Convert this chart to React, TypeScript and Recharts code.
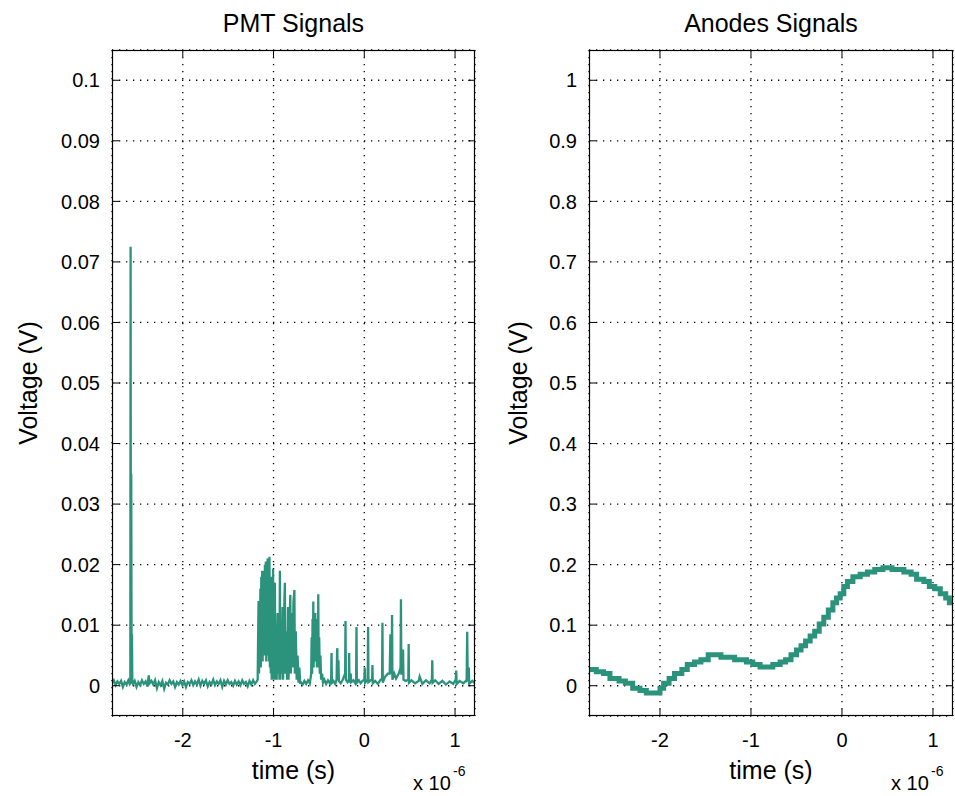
import React from 'react';
import { LineChart, Line, XAxis, YAxis, CartesianGrid } from 'recharts';

// ---------- axes ----------
const timeTicks = [-2, -1, 0, 1];
const timeDomain: [number, number] = [-2.78, 1.22];
const pmtTicks = [0, 0.01, 0.02, 0.03, 0.04, 0.05, 0.06, 0.07, 0.08, 0.09, 0.1];
const pmtDomain: [number, number] = [-0.005, 0.105];
const anodeTicks = [0, 0.1, 0.2, 0.3, 0.4, 0.5, 0.6, 0.7, 0.8, 0.9, 1];
const anodeDomain: [number, number] = [-0.05, 1.05];

// ---------- PMT signal (time in µs, voltage in V) ----------
const pmtLead: [number, number][] = [
  [-2.78, 0.0004], [-2.76, 0.0009], [-2.74, 0.0001], [-2.72, 0.0007], [-2.7, 0.0003],
  [-2.68, 0.0008], [-2.66, -0.0002], [-2.64, 0.0006], [-2.62, 0.0002], [-2.6, 0.0009],
  [-2.585, 0.0003],
];
const pmtSpike: [number, number][] = [
  [-2.578, 0.0005], [-2.575, 0.0725], [-2.572, 0.001], [-2.568, 0.035], [-2.564, 0.002],
  [-2.56, 0.0085], [-2.556, 0.0005],
];
const pmtQuiet: [number, number][] = [
  [-2.55, 0.0003], [-2.53, 0.0008], [-2.51, -0.0002], [-2.49, 0.0006], [-2.47, 0.0001],
  [-2.45, 0.0009], [-2.43, 0.0003], [-2.41, 0.0007], [-2.39, -0.0001], [-2.375, 0.0017],
  [-2.365, 0.0004], [-2.345, 0.0008], [-2.325, 0.0002], [-2.305, 0.0009], [-2.285, -0.0004],
  [-2.265, 0.0006], [-2.245, 0.0001], [-2.225, 0.0008], [-2.205, -0.0005], [-2.185, 0.0005],
  [-2.165, 0.0002], [-2.145, 0.0009], [-2.125, 0.0003], [-2.105, 0.0007], [-2.085, -0.0002],
  [-2.065, 0.0006], [-2.045, 0.0002], [-2.025, 0.0008], [-2.005, 0.0001], [-1.985, 0.0007],
  [-1.965, -0.0002], [-1.945, 0.0006], [-1.925, 0.0003], [-1.905, 0.0009], [-1.885, 0.0001],
  [-1.865, 0.0007], [-1.845, 0.0002], [-1.825, 0.001], [-1.805, 0.0], [-1.785, 0.0008],
  [-1.765, 0.0003], [-1.745, 0.0009], [-1.725, -0.0001], [-1.705, 0.0006], [-1.685, 0.0002],
  [-1.665, 0.001], [-1.645, 0.0001], [-1.625, 0.0007], [-1.605, 0.0003], [-1.585, 0.0009],
  [-1.565, -0.0002], [-1.545, 0.0008], [-1.525, 0.0002], [-1.505, 0.0009], [-1.485, 0.0003],
  [-1.465, 0.0006], [-1.445, 0.0], [-1.425, 0.0008], [-1.405, 0.0002], [-1.385, 0.0007],
  [-1.365, 0.0001], [-1.345, 0.0009], [-1.325, 0.0003], [-1.305, 0.0006], [-1.285, -0.0001],
  [-1.265, 0.0008], [-1.245, 0.0002], [-1.225, 0.0009], [-1.205, 0.0003], [-1.185, 0.0007],
];
const pmtBurst: [number, number][] = [
  [-1.175, 0.001], [-1.17, 0.008], [-1.165, 0.014], [-1.16, 0.002], [-1.155, 0.012],
  [-1.15, 0.004], [-1.145, 0.016], [-1.14, 0.003], [-1.135, 0.018], [-1.13, 0.005],
  [-1.125, 0.019], [-1.12, 0.004], [-1.115, 0.017], [-1.11, 0.006], [-1.105, 0.019],
  [-1.1, 0.005], [-1.095, 0.02], [-1.09, 0.006], [-1.085, 0.0205], [-1.08, 0.004],
  [-1.075, 0.018], [-1.07, 0.005], [-1.065, 0.021], [-1.06, 0.006], [-1.055, 0.019],
  [-1.05, 0.004], [-1.045, 0.0213], [-1.04, 0.003], [-1.035, 0.017], [-1.03, 0.002],
  [-1.025, 0.018], [-1.02, 0.001], [-1.015, 0.016], [-1.01, 0.002], [-1.005, 0.0193],
  [-1.0, 0.001], [-0.995, 0.012], [-0.99, 0.002], [-0.985, 0.017], [-0.98, 0.001],
  [-0.97, 0.01], [-0.965, 0.001], [-0.955, 0.012], [-0.95, 0.002], [-0.94, 0.008],
  [-0.935, 0.001], [-0.93, 0.019], [-0.925, 0.001], [-0.915, 0.009], [-0.91, 0.002],
  [-0.9, 0.013], [-0.895, 0.001], [-0.885, 0.011], [-0.875, 0.017], [-0.87, 0.002],
  [-0.86, 0.009], [-0.85, 0.001], [-0.84, 0.013], [-0.835, 0.001], [-0.825, 0.01],
  [-0.815, 0.015], [-0.81, 0.002], [-0.8, 0.012], [-0.79, 0.003], [-0.78, 0.014],
  [-0.77, 0.0158], [-0.765, 0.002], [-0.755, 0.009], [-0.745, 0.001], [-0.735, 0.005],
  [-0.725, 0.0005], [-0.716, 0.003], [-0.705, 0.0003],
];
const pmtTail: [number, number][] = [
  [-0.7, 0.0006], [-0.68, 0.0002], [-0.66, 0.0008], [-0.64, 0.0003], [-0.62, 0.0009],
  [-0.6, 0.0004], [-0.585, 0.002], [-0.58, 0.008], [-0.575, 0.002], [-0.57, 0.011],
  [-0.565, 0.004], [-0.562, 0.0139], [-0.558, 0.003], [-0.55, 0.01], [-0.545, 0.005],
  [-0.54, 0.012], [-0.535, 0.004], [-0.528, 0.009], [-0.522, 0.003], [-0.515, 0.011],
  [-0.51, 0.004], [-0.507, 0.0151], [-0.503, 0.003], [-0.497, 0.008], [-0.49, 0.002],
  [-0.483, 0.005], [-0.476, 0.001], [-0.465, 0.002], [-0.455, 0.0005], [-0.44, 0.001],
  [-0.42, 0.0003], [-0.4, 0.0009], [-0.38, 0.0004], [-0.365, 0.001], [-0.361, 0.0054],
  [-0.357, 0.0005], [-0.34, 0.0008], [-0.32, 0.0003], [-0.305, 0.001], [-0.3, 0.0055],
  [-0.297, 0.0062], [-0.293, 0.001], [-0.285, 0.0042], [-0.28, 0.0008], [-0.26, 0.0004],
  [-0.24, 0.0009], [-0.225, 0.0015], [-0.211, 0.002], [-0.207, 0.0107], [-0.203, 0.001],
  [-0.185, 0.0006], [-0.17, 0.001], [-0.167, 0.0054], [-0.163, 0.0005], [-0.15, 0.002],
  [-0.145, 0.0006], [-0.12, 0.0009], [-0.1, 0.0004], [-0.09, 0.001], [-0.086, 0.0097],
  [-0.082, 0.0005], [-0.06, 0.0009], [-0.04, 0.0004], [-0.02, 0.0008], [0.0, 0.001],
  [0.005, 0.003], [0.01, 0.0005], [0.038, 0.001], [0.042, 0.0097], [0.046, 0.0006],
  [0.07, 0.0009], [0.086, 0.001], [0.09, 0.0034], [0.094, 0.0004], [0.12, 0.0008],
  [0.15, 0.0003], [0.18, 0.001], [0.196, 0.001], [0.2, 0.0104], [0.204, 0.0005],
  [0.23, 0.0015], [0.26, 0.002], [0.28, 0.002], [0.288, 0.0085], [0.292, 0.002],
  [0.302, 0.003], [0.306, 0.0117], [0.31, 0.001], [0.33, 0.002], [0.35, 0.0012],
  [0.38, 0.002], [0.4, 0.003], [0.404, 0.0143], [0.408, 0.002], [0.42, 0.002],
  [0.427, 0.006], [0.432, 0.001], [0.46, 0.0008], [0.485, 0.001], [0.489, 0.0069],
  [0.493, 0.0005], [0.52, 0.0009], [0.56, 0.0004], [0.6, 0.0008], [0.61, 0.0015],
  [0.64, 0.0003], [0.68, 0.0009], [0.72, 0.0004], [0.745, 0.001], [0.749, 0.0042],
  [0.753, 0.0005], [0.78, 0.0009], [0.82, 0.0003], [0.86, 0.0008], [0.9, 0.0002],
  [0.94, 0.0007], [0.98, 0.0003], [1.008, 0.001], [1.013, 0.0025], [1.018, 0.0003],
  [1.05, 0.0008], [1.09, 0.0004], [1.12, 0.0008], [1.128, 0.001], [1.134, 0.0089],
  [1.14, 0.001], [1.15, 0.0012], [1.152, 0.003], [1.156, 0.0003], [1.19, 0.0008],
  [1.22, 0.0004],
];

// ---------- Anode signal ----------
const anodeSignal: [number, number][] = [
  [-2.78, 0.027], [-2.7, 0.023], [-2.62, 0.02], [-2.55, 0.012], [-2.45, 0.008],
  [-2.38, 0.004], [-2.3, -0.004], [-2.22, -0.008], [-2.15, -0.012], [-2.03, -0.012],
  [-2.0, -0.004], [-1.96, 0.004], [-1.9, 0.012], [-1.84, 0.02], [-1.76, 0.027],
  [-1.7, 0.035], [-1.62, 0.039], [-1.55, 0.043], [-1.47, 0.051], [-1.4, 0.051],
  [-1.33, 0.047], [-1.25, 0.047], [-1.18, 0.043], [-1.05, 0.039], [-0.98, 0.035],
  [-0.9, 0.031], [-0.76, 0.035], [-0.68, 0.039], [-0.62, 0.043], [-0.56, 0.051],
  [-0.5, 0.059], [-0.45, 0.066], [-0.4, 0.074], [-0.35, 0.082], [-0.3, 0.09],
  [-0.25, 0.102], [-0.2, 0.113], [-0.15, 0.125], [-0.1, 0.137], [-0.06, 0.145],
  [-0.02, 0.152], [0.02, 0.164], [0.06, 0.172], [0.12, 0.18], [0.2, 0.184],
  [0.28, 0.188], [0.36, 0.192], [0.45, 0.195], [0.55, 0.192], [0.68, 0.188],
  [0.76, 0.184], [0.82, 0.176], [0.9, 0.172], [0.96, 0.164], [1.02, 0.16],
  [1.08, 0.152], [1.14, 0.145], [1.18, 0.137], [1.22, 0.133],
];

const toRows = (pts: [number, number][]) => pts.map(([t, v]) => ({ t, v }));
const pmtData = toRows([...pmtLead, ...pmtSpike, ...pmtQuiet, ...pmtBurst, ...pmtTail]);
const anodeData = toRows(anodeSignal);

// ---------- layout ----------
const FONT = "'Liberation Sans', Arial, Helvetica, sans-serif";
const TICK_FS = 20;
const LABEL_FS = 25;
const LINE_COLOR = '#2b927c';
const PLOT_TOP = 50;
const PLOT_BOTTOM = 716;
const TICK_LEN = 7;

type PanelProps = {
  containerLeft: number;
  containerWidth: number;
  plotLeft: number;
  plotRight: number;
  data: { t: number; v: number }[];
  yTicks: number[];
  yDomain: [number, number];
  strokeWidth: number;
  lineType: 'linear' | 'stepAfter';
};

function Panel(p: PanelProps) {
  const yAxisW = 60;
  const xAxisH = 40;
  const pl = p.plotLeft - p.containerLeft;
  const pr = p.plotRight - p.containerLeft;
  const margin = {
    top: PLOT_TOP,
    left: pl - yAxisW,
    right: p.containerWidth - pr,
    bottom: 796 - PLOT_BOTTOM - xAxisH,
  };
  const YTick = (props: any) => {
    const { x, y, payload } = props;
    return (
      <g>
        <text x={x} y={y} dy="0.36em" textAnchor="end" fontFamily={FONT} fontSize={TICK_FS} fill="#000">
          {String(payload.value)}
        </text>
        <line x1={pl} x2={pl + TICK_LEN} y1={y} y2={y} stroke="#000" strokeWidth={1} />
        <line x1={pr - TICK_LEN} x2={pr} y1={y} y2={y} stroke="#000" strokeWidth={1} />
      </g>
    );
  };
  const XTick = (props: any) => {
    const { x, payload } = props;
    return (
      <g>
        <text x={x} y={PLOT_BOTTOM + 31} textAnchor="middle" fontFamily={FONT} fontSize={TICK_FS} fill="#000">
          {String(payload.value)}
        </text>
        <line x1={x} x2={x} y1={PLOT_BOTTOM - TICK_LEN} y2={PLOT_BOTTOM} stroke="#000" strokeWidth={1} />
        <line x1={x} x2={x} y1={PLOT_TOP} y2={PLOT_TOP + TICK_LEN} stroke="#000" strokeWidth={1} />
      </g>
    );
  };
  return (
    <div style={{ position: 'absolute', left: p.containerLeft, top: 0 }}>
      <LineChart width={p.containerWidth} height={796} data={p.data} margin={margin}>
        <CartesianGrid stroke="#000" strokeWidth={1.3} strokeDasharray="1.3 5.7" />
        <XAxis
          dataKey="t"
          type="number"
          domain={timeDomain}
          ticks={timeTicks}
          allowDataOverflow
          interval={0}
          height={xAxisH}
          axisLine={false}
          tickLine={false}
          tickSize={0}
          tickMargin={10}
          tick={XTick}
        />
        <YAxis
          type="number"
          domain={p.yDomain}
          ticks={p.yTicks}
          allowDataOverflow
          interval={0}
          width={yAxisW}
          axisLine={false}
          tickLine={false}
          tickSize={0}
          tickMargin={12}
          tick={YTick}
        />
        <Line
          dataKey="v"
          type={p.lineType}
          stroke={LINE_COLOR}
          strokeWidth={p.strokeWidth}
          dot={false}
          activeDot={false}
          isAnimationActive={false}
        />
      </LineChart>
    </div>
  );
}

export default function App() {
  const panels = [
    { x0: 112, x1: 475, title: 'PMT Signals', ylabX: 37 },
    { x0: 589, x1: 953, title: 'Anodes Signals', ylabX: 527 },
  ];
  return (
    <div style={{ position: 'absolute', left: 0, top: 0, width: 955, height: 796, background: '#fff', overflow: 'hidden' }}>
      <Panel
        containerLeft={0}
        containerWidth={480}
        plotLeft={112}
        plotRight={475}
        data={pmtData}
        yTicks={pmtTicks}
        yDomain={pmtDomain}
        strokeWidth={2.3}
        lineType="linear"
      />
      <Panel
        containerLeft={480}
        containerWidth={475}
        plotLeft={589}
        plotRight={953}
        data={anodeData}
        yTicks={anodeTicks}
        yDomain={anodeDomain}
        strokeWidth={5}
        lineType="stepAfter"
      />
      <svg width={955} height={796} style={{ position: 'absolute', left: 0, top: 0, pointerEvents: 'none' }}>
        {panels.map((p) => {
          const cx = (p.x0 + p.x1) / 2;
          const cy = (PLOT_TOP + PLOT_BOTTOM) / 2;
          return (
            <g key={p.title} fontFamily={FONT} fill="#000">
              <rect x={p.x0 + 0.5} y={PLOT_TOP + 0.5} width={p.x1 - p.x0 - 1} height={PLOT_BOTTOM - PLOT_TOP - 1} fill="none" stroke="#000" strokeWidth={1.2} />
              <text x={cx} y={32} textAnchor="middle" fontSize={LABEL_FS}>{p.title}</text>
              <text x={cx} y={779} textAnchor="middle" fontSize={LABEL_FS}>time (s)</text>
              <text x={p.ylabX} y={cy} textAnchor="middle" fontSize={LABEL_FS} transform={`rotate(-90 ${p.ylabX} ${cy})`}>Voltage (V)</text>
              <text x={p.x1 - 62} y={790} fontSize={TICK_FS}>x 10</text>
              <text x={p.x1 - 22} y={776} fontSize={14}>-6</text>
            </g>
          );
        })}
      </svg>
    </div>
  );
}
